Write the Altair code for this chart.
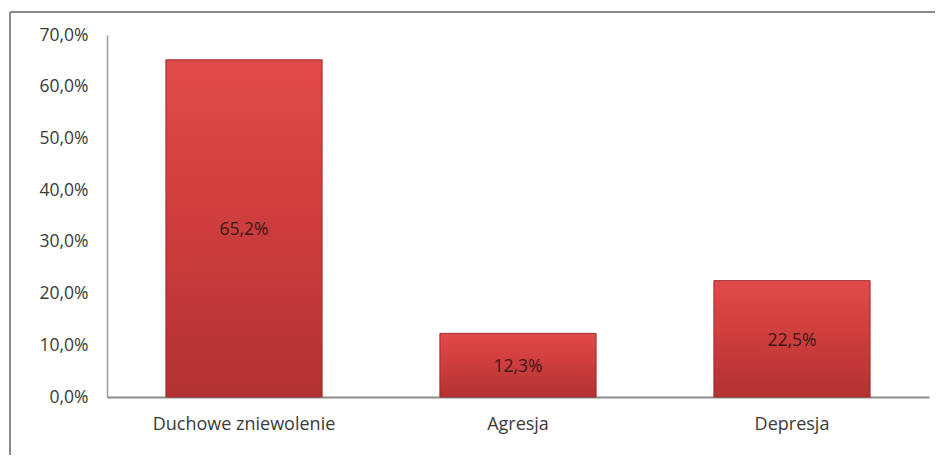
import altair as alt
import pandas as pd

categories = ["Duchowe zniewolenie", "Agresja", "Depresja"]
values = [65.2, 12.3, 22.5]
labels = ["65,2%", "12,3%", "22,5%"]
y_ticks = [0, 10, 20, 30, 40, 50, 60, 70]

df = pd.DataFrame({"cat": categories, "val": values, "lab": labels})

W, H = 822, 362
FONT = "Open Sans"

x_enc = alt.X("cat:N", sort=categories, title=None,
              scale=alt.Scale(paddingInner=0.43, paddingOuter=0.215),
              axis=alt.Axis(labelAngle=0, ticks=False, domainColor="#8c8c8c", domainWidth=2,
                            labelFont=FONT, labelFontSize=18, labelColor="#3a3a3a",
                            labelPadding=18, labelLimit=0))
y_enc = alt.Y("val:Q", title=None,
              scale=alt.Scale(domain=[0, 70], nice=False),
              axis=alt.Axis(values=y_ticks, grid=False, ticks=False, domainColor="#9a9a9a",
                            domainWidth=1.5, labelFont=FONT, labelFontSize=17.5,
                            labelColor="#3a3a3a", labelPadding=19,
                            labelExpr="replace(format(datum.value, '.1f'), '.', ',') + '%'"))

bars = alt.Chart(df).mark_bar(
    color=alt.Gradient(gradient="linear", x1=0, x2=0, y1=0, y2=1,
                       stops=[alt.GradientStop(color="#e04a4a", offset=0),
                              alt.GradientStop(color="#d23f3f", offset=0.4),
                              alt.GradientStop(color="#b23232", offset=1)]),
    stroke="#9e2a2a", strokeWidth=1
).encode(x=x_enc, y=y_enc)

text = alt.Chart(df).mark_text(font=FONT, fontSize=17.5, color="#3a1818", dy=2).encode(
    x=alt.X("cat:N", sort=categories),
    y=alt.Y("mid:Q"),
    text="lab:N",
).transform_calculate(mid="datum.val / 2")

border_top = alt.Chart(df).mark_rule(color="#8a8a8a", strokeWidth=2).encode(
    x=alt.value(-97), x2=alt.value(W + 20), y=alt.value(-23))
border_left = alt.Chart(df).mark_rule(color="#8a8a8a", strokeWidth=2).encode(
    x=alt.value(-97), y=alt.value(-23), y2=alt.value(H + 80))

chart = alt.layer(border_top, border_left, bars, text).properties(
    width=W, height=H,
    background="white",
    autosize=alt.AutoSizeParams(type="none"),
    padding={"left": 99, "top": 27, "right": 6, "bottom": 58},
).configure_view(stroke="transparent", strokeWidth=0)

chart.save("out.html", embed_options={"renderer": "svg", "actions": False})
